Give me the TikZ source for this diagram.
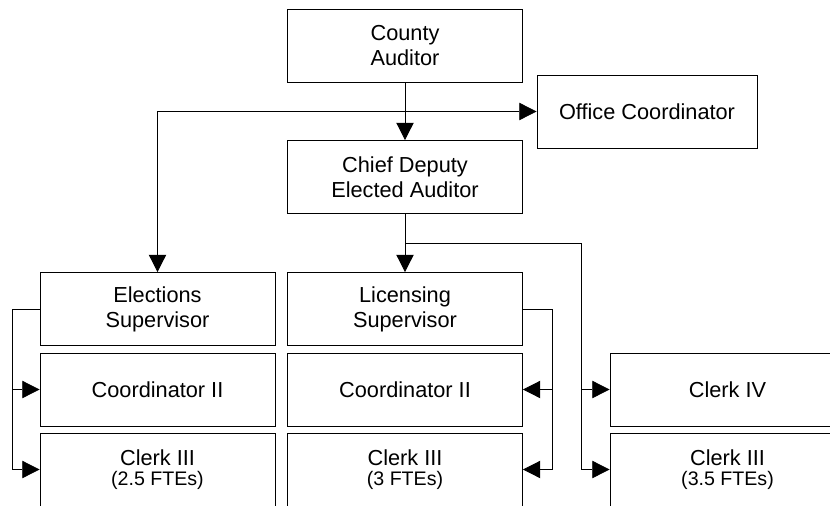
\documentclass[tikz,border=0pt]{standalone}
\usepackage{fontspec}
\setmainfont{Liberation Sans}
\usetikzlibrary{arrows.meta}

\newcommand{\fte}[1]{{\fontsize{14.7}{16}\selectfont (#1 FTEs)}}

\begin{document}
\begin{tikzpicture}[x=0.75pt, y=-0.75pt,
    every node/.style={font=\fontsize{16.3}{18.75}\selectfont},
    box/.style={draw, line width=0.6pt, minimum width=176.25pt, minimum height=54.75pt, inner sep=0pt, align=center},
    link/.style={line width=0.6pt},
    >={Triangle[length=13pt, width=13pt]}]
    \useasboundingbox (0,0) rectangle (830,506);
    \clip (0,0) rectangle (830,505);

    % top of the chart
    \node[box] (ca) at (405,45.5) {County\\Auditor};
    \node[box, minimum width=165pt] (oc) at (647,111.5) {Office Coordinator};
    \node[box] (cd) at (405,177) {Chief Deputy\\Elected Auditor};

    % supervisors
    \node[box] (es) at (157.5,309) {Elections\\Supervisor};
    \node[box] (ls) at (405,309) {Licensing\\Supervisor};

    % staff
    \node[box] (ec) at (157.5,389.5) {Coordinator II};
    \node[box] (lc) at (405,389.5) {Coordinator II};
    \node[box] (ck) at (727.5,389.5) {Clerk IV};
    \node[box] (ecl) at (157.5,469.5) {Clerk III\\[-3.75pt]\fte{2.5}};
    \node[box] (lcl) at (405,469.5) {Clerk III\\[-3.75pt]\fte{3}};
    \node[box] (rcl) at (727.5,469.5) {Clerk III\\[-3.75pt]\fte{3.5}};

    \draw[link, ->] (ca) -- (cd);
    \draw[link, <->] (es.north) |- (oc.west);
    \draw[link, ->] (cd) -- (ls);

    % chief deputy to the clerks on the right
    \coordinate (rbus) at (581,243);
    \draw[link] (cd.south |- rbus) -- (rbus) -- (rbus |- rcl.west);
    \draw[link, ->] (rbus |- ck.west) -- (ck.west);
    \draw[link, ->] (rbus |- rcl.west) -- (rcl.west);

    % elections staff
    \coordinate (lbus) at (12,309);
    \draw[link] (es.west) -- (lbus) -- (lbus |- ecl.west);
    \draw[link, ->] (lbus |- ec.west) -- (ec.west);
    \draw[link, ->] (lbus |- ecl.west) -- (ecl.west);

    % licensing staff
    \coordinate (mbus) at (552,309);
    \draw[link] (ls.east) -- (mbus) -- (mbus |- lcl.east);
    \draw[link, ->] (mbus |- lc.east) -- (lc.east);
    \draw[link, ->] (mbus |- lcl.east) -- (lcl.east);
\end{tikzpicture}
\end{document}
